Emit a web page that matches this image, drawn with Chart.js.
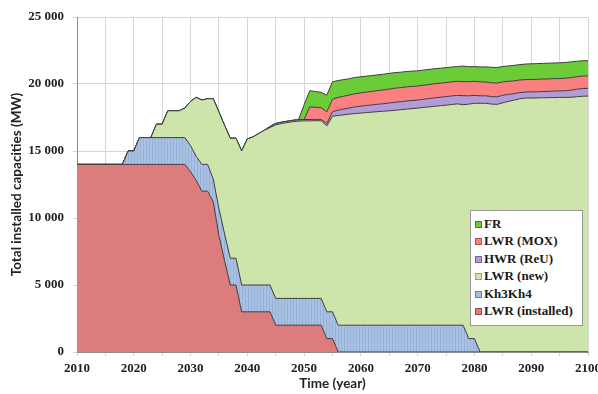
<!DOCTYPE html>
<html>
<head>
<meta charset="utf-8">
<script src="https://cdn.jsdelivr.net/npm/chart.js@4"></script>
<style>
  html, body { margin: 0; padding: 0; background: #fff; }
  #wrap { position: relative; width: 598px; height: 394px; }
  #legend {
    position: absolute; left: 470px; top: 210px; width: 111px; height: 110px;
    background: #fff; border: 1px solid #9a9a9a; box-sizing: content-box;
    font: bold 13px "Liberation Serif", serif; color: #1a1a1a;
    padding-top: 4px;
  }
  #legend div { height: 17.4px; line-height: 17.4px; white-space: nowrap; padding-left: 4px; }
  #legend span.box {
    display: inline-block; width: 5px; height: 5px; margin-right: 2px;
    vertical-align: 0px; border: 1px solid #555;
  }
</style>
</head>
<body>
<div id="wrap">
  <canvas id="chart"></canvas>
  <div id="legend"></div>
</div>
<script>
// annees 2010 .. 2100
const years = [];
for (let y = 2010; y <= 2100; y++) years.push(y);

// valeurs (MW), une par annee
const lwrInstalled = [
  14000, 14000, 14000, 14000, 14000, 14000, 14000, 14000, 14000, 14000,
  14000, 14000, 14000, 14000, 14000, 14000, 14000, 14000, 14000, 14000,
  13450, 12800, 12000, 12000, 11200, 8700, 6800, 5000, 5000, 3000,
  3000, 3000, 3000, 3000, 3000, 2000, 2000, 2000, 2000, 2000,
  2000, 2000, 2000, 2000, 1000, 1000, 0, 0, 0, 0,
  0, 0, 0, 0, 0, 0, 0, 0, 0, 0,
  0, 0, 0, 0, 0, 0, 0, 0, 0, 0,
  0, 0, 0, 0, 0, 0, 0, 0, 0, 0,
  0, 0, 0, 0, 0, 0, 0, 0, 0, 0,
  0
];
const kh3kh4 = [
  0, 0, 0, 0, 0, 0, 0, 0, 0, 1000,
  1000, 2000, 2000, 2000, 2000, 2000, 2000, 2000, 2000, 2000,
  1950, 1800, 2000, 2000, 1700, 2000, 2000, 2000, 2000, 2000,
  2000, 2000, 2000, 2000, 2000, 2000, 2000, 2000, 2000, 2000,
  2000, 2000, 2000, 2000, 2000, 2000, 2000, 2000, 2000, 2000,
  2000, 2000, 2000, 2000, 2000, 2000, 2000, 2000, 2000, 2000,
  2000, 2000, 2000, 2000, 2000, 2000, 2000, 2000, 2000, 1000,
  1000, 0, 0, 0, 0, 0, 0, 0, 0, 0,
  0, 0, 0, 0, 0, 0, 0, 0, 0, 0,
  0
];
const lwrNew = [
  0, 0, 0, 0, 0, 0, 0, 0, 0, 0,
  0, 0, 0, 0, 1000, 1000, 2000, 2000, 2000, 2200,
  3300, 4400, 4800, 4900, 6000, 7200, 8100, 8950, 8950, 10000,
  10900, 11050, 11300, 11550, 11750, 12950, 13050, 13120, 13190, 13230,
  13250, 13250, 13260, 13260, 13870, 14600, 15650, 15700, 15750, 15800,
  15830, 15870, 15900, 15940, 15970, 16000, 16040, 16080, 16120, 16160,
  16200, 16250, 16290, 16340, 16380, 16420, 16470, 16520, 16450, 17500,
  17560, 18560, 18560, 18500, 18480, 18600, 18700, 18800, 18900, 18950,
  18950, 18960, 18970, 18980, 18990, 19000, 19000, 19010, 19050, 19080,
  19100
];
const hwrReu = [
  0, 0, 0, 0, 0, 0, 0, 0, 0, 0,
  0, 0, 0, 0, 0, 0, 0, 0, 0, 0,
  0, 0, 0, 0, 0, 0, 0, 0, 0, 0,
  0, 0, 0, 0, 80, 100, 100, 100, 100, 100,
  100, 100, 100, 100, 180, 330, 400, 430, 460, 500,
  520, 530, 540, 550, 560, 580, 600, 600, 610, 610,
  600, 610, 620, 630, 630, 640, 640, 630, 680, 620,
  590, 560, 560, 560, 560, 560, 520, 480, 460, 450,
  460, 460, 470, 470, 480, 480, 500, 530, 560, 580,
  580
];
const lwrMox = [
  0, 0, 0, 0, 0, 0, 0, 0, 0, 0,
  0, 0, 0, 0, 0, 0, 0, 0, 0, 0,
  0, 0, 0, 0, 0, 0, 0, 0, 0, 0,
  0, 0, 0, 0, 0, 0, 0, 0, 0, 0,
  0, 950, 900, 870, 870, 930, 950, 960, 970, 980,
  990, 1000, 1010, 1020, 1030, 1040, 1050, 1050, 1050, 1050,
  1050, 1050, 1050, 1050, 1050, 1050, 1050, 1050, 1050, 1050,
  1050, 1040, 1030, 1030, 1030, 1000, 980, 960, 940, 930,
  930, 930, 930, 930, 930, 930, 930, 930, 930, 930,
  930
];
const fr = [
  0, 0, 0, 0, 0, 0, 0, 0, 0, 0,
  0, 0, 0, 0, 0, 0, 0, 0, 0, 0,
  0, 0, 0, 0, 0, 0, 0, 0, 0, 0,
  0, 0, 0, 0, 0, 0, 0, 0, 0, 0,
  1100, 1200, 1180, 1150, 1250, 1310, 1260, 1240, 1220, 1210,
  1200, 1190, 1180, 1180, 1170, 1170, 1160, 1150, 1150, 1140,
  1140, 1130, 1130, 1120, 1120, 1110, 1110, 1100, 1160, 1120,
  1100, 1110, 1130, 1160, 1160, 1150, 1150, 1150, 1150, 1160,
  1170, 1170, 1170, 1170, 1170, 1170, 1180, 1180, 1160, 1140,
  1130
];

const seriesNames = ['LWR (installed)', 'Kh3Kh4', 'LWR (new)', 'HWR (ReU)', 'LWR (MOX)', 'FR'];
const seriesColors = ['#dc7c7c', '#a7bfe0', '#cde4ab', '#b29bd6', '#fb8080', '#6ccc38'];
const markerBorders = ['#a04848', '#6880a8', '#8aa86a', '#7a60a0', '#c04848', '#3a8a18'];
const yTicks = [0, 5000, 10000, 15000, 20000, 25000];

// hachures verticales pour Kh3Kh4
function stripePattern(base, line) {
  const c = document.createElement('canvas');
  c.width = 3; c.height = 4;
  const g = c.getContext('2d');
  g.fillStyle = base; g.fillRect(0, 0, 3, 4);
  g.fillStyle = line; g.fillRect(2, 0, 1, 4);
  return g.createPattern(c, 'repeat');
}

const ctx = document.getElementById('chart').getContext('2d');
const fills = seriesColors.slice();
fills[1] = stripePattern('#a9c1e2', '#98b1d6');

const allData = [lwrInstalled, kh3kh4, lwrNew, hwrReu, lwrMox, fr];

const datasets = allData.map((d, i) => ({
  label: seriesNames[i],
  data: d,
  backgroundColor: fills[i],
  borderColor: '#3d3d3d',
  borderWidth: 1,
  fill: i === 0 ? 'origin' : '-1',
  pointRadius: 0,
  tension: 0
}));

const tickFont = { family: 'Liberation Serif', weight: 'bold', size: 13 };
const titleFont = { family: 'Lato', weight: 'bold', size: 13.5 };

new Chart(ctx, {
  type: 'line',
  data: { labels: years, datasets: datasets },
  options: {
    responsive: true,
    maintainAspectRatio: false,
    animation: false,
    layout: { padding: { left: 0, right: 10, top: 17, bottom: 0 } },
    plugins: { legend: { display: false }, tooltip: { enabled: false } },
    scales: {
      x: {
        type: 'linear',
        min: 2010,
        max: 2100,
        ticks: {
          stepSize: 5,
          autoSkip: false,
          maxRotation: 0,
          padding: 5,
          color: '#222',
          font: tickFont,
          callback: v => (v % 10 === 0 ? String(v) : '')
        },
        grid: { color: '#d6d6d6', tickLength: 4 },
        border: { color: '#8c8c8c' },
        title: { display: true, text: 'Time (year)', color: '#222', font: titleFont, padding: { top: 0, bottom: 2 } },
        afterFit: s => { s.height = 42; s.paddingRight = 0; s.paddingLeft = 0; }
      },
      y: {
        stacked: true,
        min: 0,
        max: 25000,
        afterBuildTicks: s => { s.ticks = yTicks.map(v => ({ value: v })); },
        ticks: {
          padding: 9,
          color: '#222',
          font: tickFont,
          callback: v => String(v).replace(/\B(?=(\d{3})+(?!\d))/g, ' ')
        },
        grid: { color: '#d6d6d6', tickLength: 4 },
        border: { color: '#8c8c8c' },
        title: { display: true, text: 'Total installed capacities (MW)', color: '#222', font: titleFont, padding: { top: 9, bottom: 0 } },
        afterFit: s => { s.width = 77; }
      }
    }
  }
});

// legende dans le graphe, ordre inverse de l'empilement
const legendEl = document.getElementById('legend');
for (let i = seriesNames.length - 1; i >= 0; i--) {
  const row = document.createElement('div');
  const box = document.createElement('span');
  box.className = 'box';
  box.style.background = seriesColors[i];
  box.style.borderColor = markerBorders[i];
  row.appendChild(box);
  row.appendChild(document.createTextNode(seriesNames[i]));
  legendEl.appendChild(row);
}
</script>
</body>
</html>
